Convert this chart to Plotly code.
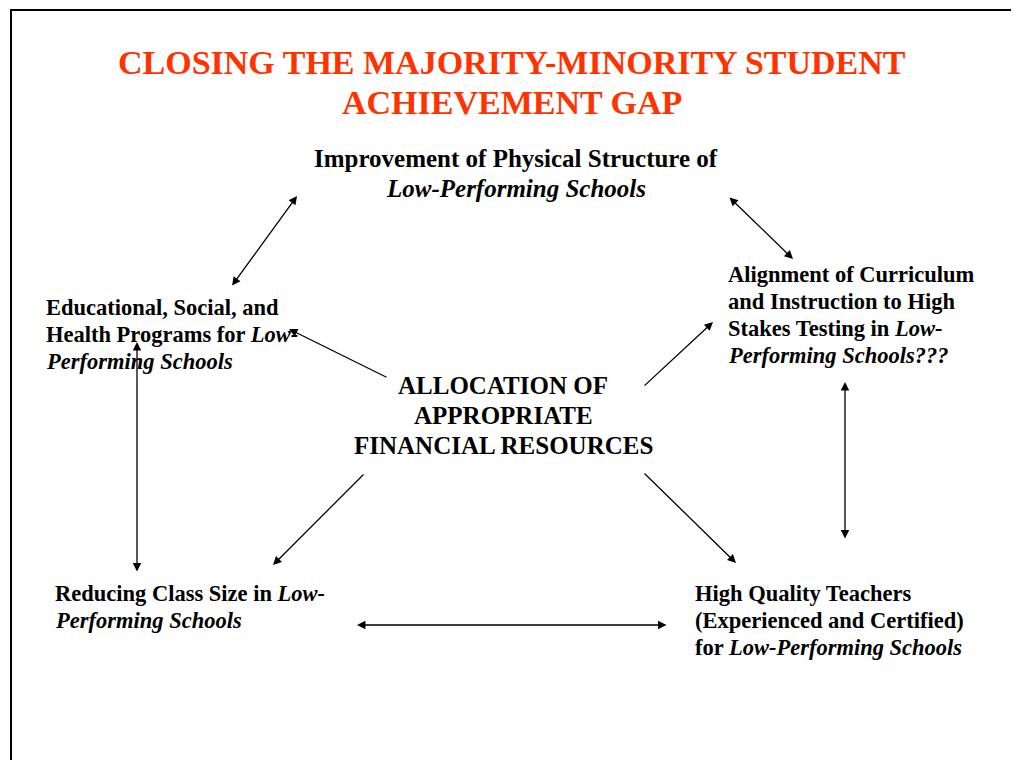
import plotly.graph_objects as go

W, H = 1019, 760
OFF = 8  # page body margin
FONT = "Liberation Serif, Times New Roman, serif"
RED = "#FF3300"

title_lines = ["CLOSING THE MAJORITY-MINORITY STUDENT", "ACHIEVEMENT GAP"]
title_y = [62, 102]
title_x = 512

# text blocks: (lines, x, y0, line_gap, anchor, size)
blocks = [
    (["Improvement of Physical Structure of", "<i>Low-Performing Schools</i>"], 516, 158, 30, "center", 25),
    (["Educational, Social, and", "Health Programs for <i>Low-</i>", "<i>Performing Schools</i>"], 44, 307, 27, "left", 22.5),
    (["Alignment of Curriculum", "and Instruction to High", "Stakes Testing in <i>Low-</i>", "<i>Performing Schools???</i>"], 726, 274, 27, "left", 22.5),
    (["ALLOCATION OF", "APPROPRIATE", "FINANCIAL RESOURCES"], 503, 385, 30, "center", 25),
    (["Reducing Class Size in <i>Low-</i>", "<i>Performing Schools</i>"], 53, 593, 27, "left", 22.5),
    (["High Quality Teachers", "(Experienced and Certified)", "for <i>Low-Performing Schools</i>"], 693, 593, 27, "left", 22.5),
]

# arrows: (x_tail, y_tail, x_head, y_head, double)
arrows = [
    (231, 287, 297, 196, True),
    (728, 196, 793, 259, True),
    (388, 378, 289, 329, False),
    (643, 387, 713, 322, False),
    (137, 573, 137, 342, True),
    (845, 540, 845, 382, True),
    (365, 473, 273, 565, False),
    (643, 472, 736, 563, False),
    (668, 625, 357, 625, True),
]

fig = go.Figure()
fig.add_trace(go.Scatter(x=[OFF, W], y=[OFF, H], mode="markers", marker=dict(opacity=0), hoverinfo="skip", showlegend=False))

annotations = []
for t, y in zip(title_lines, title_y):
    annotations.append(dict(x=title_x, y=y, xref="x", yref="y", text=f"<b>{t}</b>", showarrow=False,
                            xanchor="center", yanchor="middle", font=dict(family=FONT, size=34, color=RED)))
for lines, x, y0, gap, anchor, size in blocks:
    for i, ln in enumerate(lines):
        annotations.append(dict(x=x, y=y0 + i * gap, xref="x", yref="y", text=f"<b>{ln}</b>", showarrow=False,
                                xanchor=anchor, yanchor="middle", font=dict(family=FONT, size=size, color="black")))
for xt, yt, xh, yh, dbl in arrows:
    annotations.append(dict(x=xh, y=yh, ax=xt, ay=yt, xref="x", yref="y", axref="x", ayref="y", text="",
                            showarrow=True, arrowhead=2, startarrowhead=2, arrowsize=1.3, startarrowsize=1.3,
                            arrowwidth=1.3, arrowcolor="black",
                            arrowside="end+start" if dbl else "end", standoff=0, startstandoff=0))

shapes = [
    dict(type="line", xref="x", yref="y", x0=10, y0=10, x1=W, y1=10, line=dict(color="black", width=2)),
    dict(type="line", xref="x", yref="y", x0=11, y0=9, x1=11, y1=H, line=dict(color="black", width=2)),
]

fig.update_layout(
    width=W - OFF, height=H - OFF, margin=dict(l=0, r=0, t=0, b=0),
    paper_bgcolor="white", plot_bgcolor="white",
    xaxis=dict(range=[OFF, W], visible=False, fixedrange=True),
    yaxis=dict(range=[H, OFF], visible=False, fixedrange=True),
    annotations=annotations, shapes=shapes, showlegend=False,
)
fig.write_html("out.html", config={"displayModeBar": False})
